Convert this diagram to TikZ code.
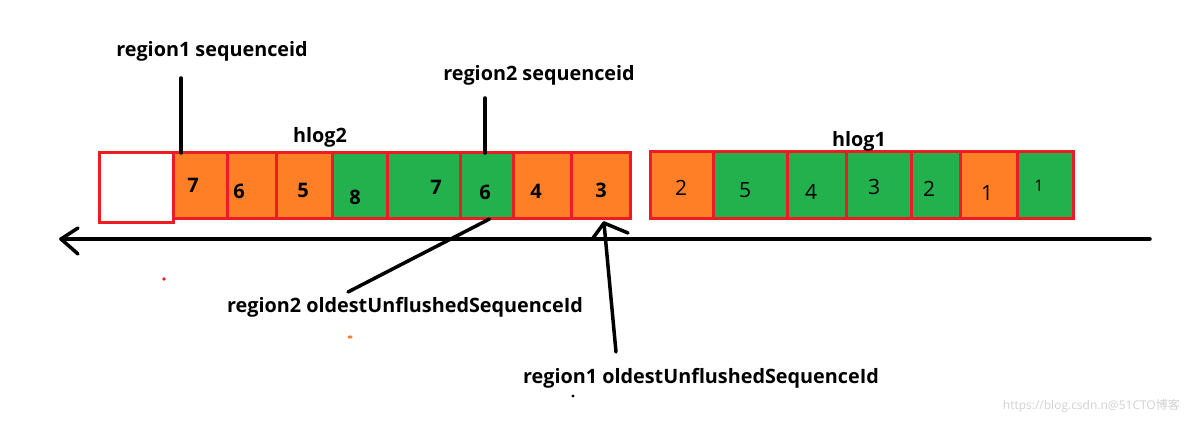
\documentclass[tikz,border=0pt]{standalone}
\usepackage{fontspec}
\setmainfont{Open Sans}
\newfontfamily\cjkfont{Noto Sans CJK SC}
\definecolor{myred}{HTML}{ED1C24}
\definecolor{myorange}{HTML}{FF7F27}
\definecolor{mygreen}{HTML}{22B14C}
\begin{document}
\begin{tikzpicture}[x=1pt,y=-1pt,
  cellbox/.style={draw=myred, line width=3pt, inner sep=0pt, outer sep=0pt},
  lbl/.style={font=\fontsize{19.8}{22}\selectfont\bfseries, inner sep=0pt},
  bnum/.style={font=\fontsize{20}{22}\selectfont\bfseries, inner sep=0pt},
  rnum/.style={font=\fontsize{21}{22}\selectfont, inner sep=0pt},
  pen/.style={line width=3.5pt, line cap=round, black}]
\useasboundingbox (0,0) rectangle (1184,422);
% hlog2
\node[cellbox, fill=white, minimum width=74pt, minimum height=70pt] (h2w) at (136,188) {};
\node[cellbox, fill=myorange, minimum width=54pt, minimum height=66pt] (h2a) at (200,186) {};
\node[cellbox, fill=myorange, minimum width=49pt, minimum height=66pt] (h2b) at (251.5,186) {};
\node[cellbox, fill=myorange, minimum width=56pt, minimum height=66pt] (h2c) at (304,186) {};
\node[cellbox, fill=mygreen, minimum width=55.5pt, minimum height=66pt] (h2d) at (359.75,186) {};
\node[cellbox, fill=mygreen, minimum width=72.5pt, minimum height=66pt] (h2e) at (423.75,186) {};
\node[cellbox, fill=mygreen, minimum width=53pt, minimum height=66pt] (h2f) at (486.5,186) {};
\node[cellbox, fill=myorange, minimum width=58pt, minimum height=66pt] (h2g) at (542,186) {};
\node[cellbox, fill=myorange, minimum width=59pt, minimum height=66pt] (h2h) at (600.5,186) {};
\node[bnum] (n2a) at (193,185) {7};
\node[bnum] (n2b) at (239,191) {6};
\node[bnum] (n2c) at (303,190) {5};
\node[bnum] (n2d) at (355,197) {8};
\node[bnum] (n2e) at (436,187) {7};
\node[bnum] (n2f) at (485,192) {6};
\node[bnum] (n2g) at (536,191) {4};
\node[bnum] (n2h) at (601,190) {3};
% hlog1
\node[cellbox, fill=myorange, minimum width=63pt, minimum height=67pt] (h1a) at (681.5,185.5) {};
\node[cellbox, fill=mygreen, minimum width=74pt, minimum height=67pt] (h1b) at (750,185.5) {};
\node[cellbox, fill=mygreen, minimum width=59pt, minimum height=67pt] (h1c) at (816.5,185.5) {};
\node[cellbox, fill=mygreen, minimum width=65pt, minimum height=67pt] (h1d) at (878.5,185.5) {};
\node[cellbox, fill=mygreen, minimum width=49pt, minimum height=67pt] (h1e) at (935.5,185.5) {};
\node[cellbox, fill=myorange, minimum width=57pt, minimum height=67pt] (h1f) at (988.5,185.5) {};
\node[cellbox, fill=mygreen, minimum width=56pt, minimum height=67pt] (h1g) at (1045,185.5) {};
\node[rnum] (n1a) at (681,188) {2};
\node[rnum] (n1b) at (745,190) {5};
\node[rnum] (n1c) at (811,192) {4};
\node[rnum] (n1d) at (874,187) {3};
\node[rnum] (n1e) at (929,189) {2};
\node[rnum] (n1f) at (987,193) {1};
\node[rnum, font=\fontsize{16}{18}\selectfont] (n1g) at (1039,186) {1};
% labels
\node[lbl] (r1seq) at (212,51) {region1 sequenceid};
\node[lbl] (r2seq) at (539,75) {region2 sequenceid};
\node[lbl] (hl2) at (320,137) {hlog2};
\node[lbl] (hl1) at (859,141) {hlog1};
\node[lbl] (r2old) at (405,307) {region2 oldestUnflushedSequenceId};
\node[lbl] (r1old) at (701,378) {region1 oldestUnflushedSequenceId};
% connectors
\coordinate (r1t) at (181,78);
\coordinate (r2t) at (485,98);
\draw[pen] (r1t) -- (r1t |- h2a.north);
\draw[pen] (r2t) -- (r2t |- h2f.north);
% axis
\coordinate (axR) at (1150,239);
\coordinate (axL) at (61,239);
\draw[pen] (axR) -- (axL);
\draw[pen] (axL) -- ++(17,-11);
\draw[pen] (axL) -- ++(17,15);
% region2 oldest
\coordinate (r2o) at (348,292);
\draw[pen] (h2f.south) ++(3,0) coordinate (r2s) -- (r2o);
% region1 oldest arrow
\coordinate (r1tip) at (604,223);
\coordinate (r1tail) at (616,352);
\draw[pen] (r1tail) -- (r1tip);
\draw[pen] (r1tip) -- ++(-11,15);
\draw[pen] (r1tip) -- ++(24,10);
% stray dots
\fill[myred] (164,279) circle (1.8pt);
\fill[myorange] (350,337) ellipse (2.5pt and 1.6pt);
\fill[black] (573,396) circle (1.6pt);
% watermark
\node[font=\fontsize{12}{14}\selectfont, text=black!18, inner sep=0pt, anchor=east] (wm) at (1180,406) {https://blog.csdn.n@51CTO{\cjkfont 博客}};
\end{tikzpicture}
\end{document}
